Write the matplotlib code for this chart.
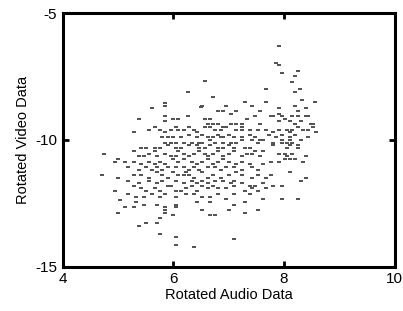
import matplotlib
matplotlib.use("Agg")
import matplotlib.pyplot as plt

plt.rcParams['font.family'] = ['Liberation Sans', 'DejaVu Sans']

x_ticks = [4, 6, 8, 10]
y_ticks = [-15, -10, -5]
x_label = "Rotated Audio Data"
y_label = "Rotated Video Data"

rotated_audio = [
    7.91, 7.86, 7.91, 7.96, 8.25, 8.20, 6.57, 8.15, 6.27, 7.67, 8.20, 8.29, 6.71,
    5.84, 5.84, 7.29, 7.67, 8.33, 8.57,
    5.61, 6.49, 6.52, 6.95, 6.80, 6.90, 7.13, 7.43, 7.57, 7.91, 8.20, 8.25, 8.39,
    5.37, 5.85, 5.99, 6.09, 6.27, 6.57, 6.66, 7.05, 7.34, 7.48, 7.77, 7.81, 7.91, 7.96, 8.01, 8.15, 8.25, 8.39, 8.44,
    5.85, 6.62, 6.71, 6.81, 6.90, 7.05, 7.14, 7.24, 7.24, 7.57, 7.91, 8.10, 8.20, 8.30, 8.49, 8.53,
    5.28, 5.56, 5.66, 5.75, 5.85, 5.95, 6.04, 6.09, 6.19, 6.28, 6.38, 6.43, 6.57, 6.66, 6.76, 6.86, 6.95,
    7.14, 7.24, 7.38, 7.53, 7.67, 7.81, 7.91, 8.05, 8.10, 8.15, 8.25, 8.34, 8.44, 8.58, 8.53,
    5.80, 5.90, 5.99, 6.14, 6.28, 6.43, 6.52, 6.62, 6.71, 6.81, 6.86, 6.90, 7.00, 7.10, 7.24, 7.38,
    7.48, 7.57, 7.72, 7.86, 7.96, 8.10, 8.20, 8.30, 8.44, 8.10, 7.96,
    5.85, 5.95, 6.04, 6.19, 6.33, 6.47, 6.52, 6.66, 6.76, 6.90, 7.05, 7.14, 7.24, 7.43, 7.53, 7.62,
    7.81, 7.96, 8.05, 8.15, 8.25,
    5.42, 5.51, 5.66, 5.75, 5.90, 6.04, 6.14, 6.28, 6.43, 6.47, 6.57, 6.66, 6.81, 6.90, 7.00, 7.10,
    7.29, 7.38, 7.48, 7.81, 8.05, 8.10, 8.25,
    4.75, 5.28, 5.37, 5.47, 5.56, 5.66, 5.71, 5.85, 5.95, 6.04, 6.09, 6.19, 6.28, 6.38, 6.47, 6.57,
    6.62, 6.71, 6.81, 6.90, 7.00, 7.10, 7.24, 7.34, 7.43, 7.57, 7.62, 7.91, 8.01, 8.05, 8.15, 8.39,
    4.94, 5.13, 5.28, 5.42, 5.56, 5.66, 5.75, 5.85, 5.99, 6.09, 6.19, 6.33, 6.43, 6.52, 6.62, 6.71,
    6.81, 6.90, 7.00, 7.14, 7.24, 7.38, 7.62, 7.77, 7.91, 8.01, 8.10, 8.20, 8.34,
    4.99, 5.18, 5.37, 5.51, 5.61, 5.71, 5.80, 5.90, 6.04, 6.19, 6.28, 6.38, 6.47, 6.62, 6.76, 6.86,
    6.95, 7.10, 7.24, 7.43, 7.53,
    4.70, 4.99, 5.28, 5.42, 5.56, 5.71, 5.80, 5.90, 5.99, 6.09, 6.19, 6.23, 6.28, 6.38, 6.52, 6.62,
    6.71, 6.86, 7.00, 7.14, 7.24, 7.43, 7.53, 7.67, 7.77, 8.10, 8.39, 8.30,
    5.18, 5.37, 5.56, 5.71, 5.80, 5.90, 6.04, 6.19, 6.33, 6.43, 6.52, 6.62, 6.76, 6.90, 7.05, 7.10,
    7.24, 7.38, 7.48, 7.62,
    4.94, 5.28, 5.42, 5.51, 5.66, 5.75, 5.95, 6.04, 6.14, 6.23, 6.33, 6.43, 6.52, 6.62, 6.71, 6.81,
    6.95, 7.10, 7.29, 7.43, 7.53, 7.67, 7.81, 7.96,
    5.04, 5.18, 5.32, 5.47, 5.61, 5.75, 5.85, 6.04, 6.23, 6.38, 6.52, 6.66, 6.81, 6.95, 7.10, 7.38,
    7.62, 7.96, 8.25,
    5.13, 5.28, 5.32, 5.47, 5.71, 5.85, 6.04, 6.04, 6.43, 6.66, 7.10, 7.29,
    4.99, 5.85, 5.85, 5.99, 6.52, 6.66, 6.76, 7.00, 7.29, 7.53,
    5.75, 5.37, 5.51, 5.71,
    5.75, 6.04, 7.10, 6.04, 6.38,
]

rotated_video = [
    -6.31, -6.97, -7.05, -7.36, -7.27, -7.49, -7.69, -7.70, -8.10, -8.01, -8.10, -8.01, -8.32,
    -8.55, -8.65, -8.52, -8.52, -8.43, -8.52,
    -8.75, -8.72, -8.65, -8.65, -8.84, -8.84, -8.84, -8.65, -8.84, -8.75, -8.65, -8.84, -8.75,
    -9.17, -9.06, -9.17, -9.17, -9.06, -9.17, -9.17, -8.96, -9.17, -9.06, -9.06, -9.06, -8.96, -9.06, -9.17, -9.06, -9.06, -9.06, -9.06,
    -9.26, -9.38, -9.38, -9.38, -9.49, -9.38, -9.38, -9.38, -9.49, -9.38, -9.27, -9.27, -9.38, -9.27, -9.38, -9.38,
    -9.68, -9.59, -9.49, -9.59, -9.68, -9.59, -9.49, -9.59, -9.59, -9.49, -9.59, -9.68, -9.49, -9.49, -9.59, -9.59, -9.49,
    -9.59, -9.59, -9.59, -9.59, -9.59, -9.68, -9.59, -9.59, -9.68, -9.59, -9.49, -9.59, -9.59, -9.68, -9.49,
    -9.89, -9.89, -9.89, -9.89, -9.79, -9.89, -9.79, -9.89, -9.89, -9.79, -9.89, -9.89, -9.79, -9.89, -9.89, -9.79,
    -9.89, -10.00, -9.79, -9.89, -9.79, -9.89, -9.79, -10.00, -9.89, -10.00, -10.00,
    -10.11, -10.11, -10.11, -10.11, -10.11, -10.11, -10.11, -10.00, -10.11, -10.11, -10.11, -10.11, -10.00, -10.00, -10.11, -10.00,
    -10.11, -10.11, -10.11, -10.11, -10.21,
    -10.32, -10.32, -10.32, -10.32, -10.21, -10.32, -10.32, -10.21, -10.21, -10.32, -10.32, -10.21, -10.32, -10.32, -10.21, -10.32,
    -10.32, -10.32, -10.42, -10.21, -10.32, -10.21, -10.32,
    -10.54, -10.44, -10.65, -10.65, -10.54, -10.44, -10.65, -10.54, -10.65, -10.65, -10.44, -10.54, -10.65, -10.54, -10.44, -10.54,
    -10.65, -10.54, -10.44, -10.65, -10.54, -10.44, -10.65, -10.54, -10.54, -10.65, -10.44, -10.54, -10.54, -10.65, -10.54, -10.65,
    -10.86, -10.86, -10.86, -10.96, -10.86, -10.96, -10.86, -10.96, -10.75, -10.86, -10.75, -10.86, -10.96, -10.86, -10.75, -10.96,
    -10.86, -10.75, -10.86, -10.96, -10.86, -10.96, -10.96, -10.86, -10.86, -10.75, -10.75, -10.75, -10.86,
    -10.75, -11.07, -11.17, -11.07, -11.17, -11.07, -11.17, -11.07, -11.07, -11.07, -11.17, -11.07, -11.17, -11.07, -11.07, -11.17,
    -11.07, -11.07, -11.17, -11.07, -11.17,
    -11.39, -11.49, -11.39, -11.39, -11.49, -11.28, -11.39, -11.49, -11.28, -11.39, -11.39, -11.28, -11.39, -11.49, -11.28, -11.49,
    -11.39, -11.49, -11.39, -11.28, -11.39, -11.49, -11.39, -11.49, -11.39, -11.28, -11.49, -11.60,
    -11.60, -11.70, -11.60, -11.70, -11.60, -11.81, -11.60, -11.70, -11.60, -11.70, -11.60, -11.70, -11.60, -11.60, -11.70, -11.60,
    -11.70, -11.81, -11.81, -11.70,
    -12.02, -11.81, -11.91, -12.02, -11.91, -12.02, -11.81, -12.02, -12.02, -11.91, -11.81, -12.02, -11.81, -11.91, -11.81, -11.91,
    -11.91, -11.81, -12.02, -11.91, -12.02, -11.91, -11.81, -11.81,
    -12.35, -12.12, -12.23, -12.23, -12.12, -12.23, -12.12, -12.23, -12.12, -12.12, -12.23, -12.23, -12.12, -12.34, -12.12, -12.12,
    -12.34, -12.34, -12.34,
    -12.65, -12.65, -12.44, -12.55, -12.55, -12.65, -12.55, -12.65, -12.44, -12.44, -12.55, -12.44,
    -12.86, -12.76, -12.86, -12.97, -12.76, -12.97, -12.97, -12.76, -12.86, -12.76,
    -13.07, -13.39, -13.28, -13.28,
    -13.71, -13.81, -13.92, -14.13, -14.23,
]

fig = plt.figure(figsize=(4.03, 3.11), dpi=100)
ax = fig.add_axes([0.156, 0.142, 0.823, 0.816])

rect = [(-1.25, -1.0), (1.25, -1.0), (1.25, 1.0), (-1.25, 1.0)]
ax.scatter(rotated_audio, rotated_video, marker=rect, s=7, c='#555555', linewidths=0)

ax.set_xlim(4, 10)
ax.set_ylim(-15, -5)
ax.set_xticks(x_ticks)
ax.set_yticks(y_ticks)
ax.set_xticklabels([str(t) for t in x_ticks])
ax.set_yticklabels([str(t) for t in y_ticks])
ax.tick_params(direction='in', length=4, width=2, top=True, right=True,
               labelsize=11, pad=4, colors='black')
for sp in ax.spines.values():
    sp.set_linewidth(2.2)
ax.set_xlabel(x_label, fontsize=10.5, labelpad=1)
ax.set_ylabel(y_label, fontsize=10.5, labelpad=4)

fig.savefig("out.png", dpi=100)
